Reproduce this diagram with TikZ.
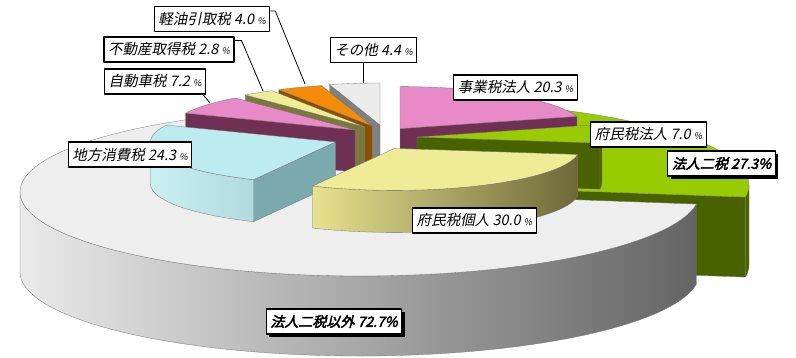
\documentclass[tikz,border=0pt]{standalone}
\usepackage{fontspec}
\usetikzlibrary{shadows}
\newfontfamily\jpfont[FakeSlant=0.2]{Noto Sans CJK JP}
\newfontfamily\jpboldfont[FakeSlant=0.25,FakeBold=3]{Noto Sans CJK JP}
\newcommand{\pctsign}{{\small\%}}

\definecolor{grtop}{RGB}{238,238,238}
\definecolor{grlight}{RGB}{234,234,234}
\definecolor{grdark}{RGB}{100,100,100}
\definecolor{lgreen}{RGB}{153,204,0}
\definecolor{dgreen}{RGB}{72,98,0}
\definecolor{pinktop}{RGB}{232,138,200}
\definecolor{maroon}{RGB}{112,48,84}
\definecolor{ylwtop}{RGB}{238,236,150}
\definecolor{ylwlight}{RGB}{230,226,142}
\definecolor{ylwdark}{RGB}{110,104,56}
\definecolor{cyantop}{RGB}{188,236,240}
\definecolor{cyanface}{RGB}{122,170,174}
\definecolor{paletop}{RGB}{238,238,152}
\definecolor{oliveface}{RGB}{122,120,62}
\definecolor{orangetop}{RGB}{244,140,10}
\definecolor{brownface}{RGB}{140,78,0}
\definecolor{othertop}{RGB}{236,236,236}
\definecolor{otherface}{RGB}{128,128,128}

\tikzset{
  rimline/.style={draw=black!55,line width=0.3pt},
  orad/.style={x radius=340,y radius=84},
  irad/.style={x radius=185,y radius=42},
  lbl/.style={draw=black,line width=1.1pt,fill=white,inner xsep=4pt,minimum height=25pt,
    font=\jpfont\fontsize{14.5}{16}\selectfont},
  boldlbl/.style={lbl,font=\jpboldfont\fontsize{14}{16}\selectfont,
    drop shadow={shadow xshift=3pt,shadow yshift=-3pt,fill=black,opacity=1}},
  leader/.style={line width=0.8pt}
}

\begin{document}
\begin{tikzpicture}[x=1pt,y=1pt,line join=round]
  \useasboundingbox (0,0) rectangle (796,-358);
  % outer ring: 法人二税
  \coordinate (ogreen) at (409,-185);
  \draw [fill=dgreen,rimline] (ogreen) -- ++(-8.28:340 and 84) -- ++(0,-80) -- ++(171.72:340 and 84) -- cycle;
  \draw [fill=dgreen,rimline] (ogreen) ++(-8.28:340 and 84) arc[start angle=-8.28,end angle=0,orad] -- ++(0,-80) arc[start angle=0,end angle=-8.28,orad] -- cycle;
  \draw [fill=lgreen,rimline] (ogreen) -- ++(-8.28:340 and 84) arc[start angle=-8.28,end angle=90,orad] -- cycle;
  % outer ring: 法人二税以外
  \coordinate (ogrey) at (360,-192);
  \draw [rimline,left color=grlight,right color=grdark] (ogrey) ++(180:340 and 84) arc[start angle=180,end angle=351.72,orad] -- ++(0,-80) arc[start angle=351.72,end angle=180,orad] -- cycle;
  \draw [fill=grtop,rimline] (ogrey) -- ++(90:340 and 84) arc[start angle=90,end angle=351.72,orad] -- cycle;
  % inner: その他
  \coordinate (asonota) at (380,-125);
  \draw [fill=otherface,rimline] (asonota) -- ++(105.84:185 and 42) -- ++(0,-42) -- ++(285.84:185 and 42) -- cycle;
  \draw [fill=othertop,rimline] (asonota) -- ++(90:185 and 42) arc[start angle=90,end angle=105.84,irad] -- cycle;
  % inner: 軽油引取税
  \coordinate (akeiyu) at (372,-126);
  \draw [fill=brownface,rimline] (akeiyu) -- ++(120.24:185 and 42) -- ++(0,-42) -- ++(300.24:185 and 42) -- cycle;
  \draw [fill=orangetop,rimline] (akeiyu) -- ++(105.84:185 and 42) arc[start angle=105.84,end angle=120.24,irad] -- cycle;
  % inner: 不動産取得税
  \coordinate (afudosan) at (365,-127);
  \draw [fill=oliveface,rimline] (afudosan) -- ++(130.32:185 and 42) -- ++(0,-42) -- ++(310.32:185 and 42) -- cycle;
  \draw [fill=paletop,rimline] (afudosan) -- ++(120.24:185 and 42) arc[start angle=120.24,end angle=130.32,irad] -- cycle;
  % inner: 事業税法人
  \coordinate (ajigyo) at (400,-128.6);
  \draw [fill=maroon,rimline] (ajigyo) -- ++(16.92:185 and 42) -- ++(0,-42) -- ++(196.92:185 and 42) -- cycle;
  \draw [fill=pinktop,rimline] (ajigyo) -- ++(16.92:185 and 42) arc[start angle=16.92,end angle=90,irad] -- cycle;
  % inner: 自動車税
  \coordinate (ajidosha) at (355,-130);
  \draw [fill=maroon,rimline] (ajidosha) -- ++(156.24:185 and 42) -- ++(0,-42) -- ++(336.24:185 and 42) -- cycle;
  \draw [fill=pinktop,rimline] (ajidosha) -- ++(130.32:185 and 42) arc[start angle=130.32,end angle=156.24,irad] -- cycle;
  % inner: 府民税法人
  \coordinate (afuhojin) at (416.9,-137.1);
  \draw [fill=dgreen,rimline] (afuhojin) -- ++(-8.28:185 and 42) -- ++(0,-46) -- ++(171.72:185 and 42) -- cycle;
  \draw [fill=dgreen,rimline] (afuhojin) ++(-8.28:185 and 42) arc[start angle=-8.28,end angle=0,irad] -- ++(0,-46) arc[start angle=0,end angle=-8.28,irad] -- cycle;
  \draw [fill=lgreen,rimline] (afuhojin) -- ++(-8.28:185 and 42) arc[start angle=-8.28,end angle=16.92,irad] -- cycle;
  % inner: 地方消費税
  \coordinate (achiho) at (335.5,-142);
  \draw [fill=cyanface,rimline] (achiho) -- ++(243.72:185 and 42) -- ++(0,-42) -- ++(63.72:185 and 42) -- cycle;
  \draw [rimline,left color=cyantop!80!white,right color=cyantop!85!black] (achiho) ++(180:185 and 42) arc[start angle=180,end angle=243.72,irad] -- ++(0,-42) arc[start angle=243.72,end angle=180,irad] -- cycle;
  \draw [fill=cyantop,rimline] (achiho) -- ++(156.24:185 and 42) arc[start angle=156.24,end angle=243.72,irad] -- cycle;
  % inner: 府民税個人
  \coordinate (afukojin) at (394.5,-148.4);
  \draw [rimline,left color=ylwlight,right color=ylwdark] (afukojin) ++(-116.28:185 and 42) arc[start angle=-116.28,end angle=-8.28,irad] -- ++(0,-42) arc[start angle=-8.28,end angle=-116.28,irad] -- cycle;
  \draw [fill=ylwtop,rimline] (afukojin) -- ++(-116.28:185 and 42) arc[start angle=-116.28,end angle=-8.28,irad] -- cycle;
  % labels
  \node [lbl] (lkeiyu) at (212,-19) {軽油引取税 4.0 \pctsign};
  \node [lbl] (lfudosan) at (169,-49.5) {不動産取得税 2.8 \pctsign};
  \node [lbl] (ljidosha) at (155,-81.5) {自動車税 7.2 \pctsign};
  \node [lbl] (lsonota) at (373.5,-50) {その他 4.4 \pctsign};
  \node [lbl] (ljigyo) at (515.5,-87.5) {事業税法人 20.3 \pctsign};
  \node [lbl] (lfuhojin) at (648.5,-134.5) {府民税法人 7.0 \pctsign};
  \node [boldlbl] (lniizei) at (721.5,-163.5) {法人二税 27.3\%};
  \node [lbl] (lchiho) at (130,-154.5) {地方消費税 24.3 \pctsign};
  \node [lbl] (lfukojin) at (474.5,-220.5) {府民税個人 30.0 \pctsign};
  \node [boldlbl] (ligai) at (334,-321.5) {法人二税以外 72.7\%};
  % leaders
  \coordinate (pkeiyu) at (305,-84);
  \coordinate (pfudosan) at (263,-91);
  \coordinate (pjidosha) at (210,-103);
  \coordinate (psonota) at (363,-83);
  \draw [leader] ([yshift=-5pt]lkeiyu.north east) -- ++(5,0) -- (pkeiyu);
  \draw [leader] ([yshift=-4pt]lfudosan.north east) -- ++(7,0) -- (pfudosan);
  \draw [leader] ([xshift=-3pt]ljidosha.south east) -- (pjidosha);
  \draw [leader] (lsonota.south -| psonota) -- (psonota);
\end{tikzpicture}
\end{document}
